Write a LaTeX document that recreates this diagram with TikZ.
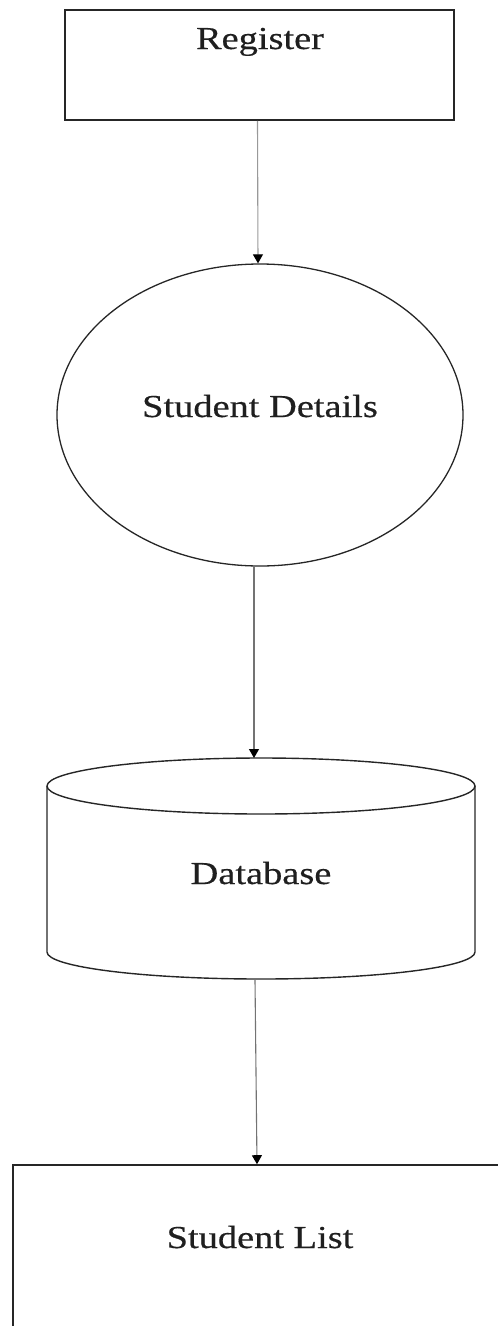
\documentclass[tikz,border=0pt]{standalone}
\usepackage{fontspec}
\setmainfont{Liberation Serif}
\newfontfamily\lblfont{Liberation Serif}[FakeBold=0.4]
\usetikzlibrary{arrows.meta,shapes.geometric}
\begin{document}
\begin{tikzpicture}[x=1pt,y=-1pt,
  boxline/.style={draw=black!85, line width=1.6pt},
  flow/.style={draw=black!55, line width=1.1pt, -{Triangle[width=10pt,length=9pt,color=black]}},
  lbl/.style={anchor=base, inner sep=0pt, text=black!88, font=\lblfont\fontsize{32}{36}\selectfont}]
\useasboundingbox (0,0) rectangle (498,1326);
\clip (0,0) rectangle (498,1326);
% Register box
\node[boxline, rectangle, minimum width=389pt, minimum height=110pt, inner sep=0pt] (reg) at (259.5,65) {};
\node[lbl] (regt) at (260,49) {\scalebox{1.2}[1]{Register}};
% Student Details ellipse
\node[boxline, line width=1.3pt, ellipse, minimum width=406pt, minimum height=302pt, inner sep=0pt] (det) at (260,415) {};
\node[lbl] (dett) at (260,417) {\scalebox{1.2}[1]{Student Details}};
% Database cylinder
\draw[boxline, line width=1.4pt] (261,786) ellipse [x radius=214pt, y radius=28pt];
\draw[boxline, line width=1.4pt] (47,786) -- (47,952)
  .. controls (47,966.9) and (142.8,979) .. (261,979)
  .. controls (379.2,979) and (475,966.9) .. (475,952) -- (475,786);
\coordinate (dbin) at (254,758);
\coordinate (dbout) at (255,980);
\node[lbl] (dbt) at (261,884) {\scalebox{1.2}[1]{Database}};
% Student List box
\node[boxline, rectangle, minimum width=507pt, minimum height=161.5pt, inner sep=0pt] (list) at (266.5,1245.75) {};
\node[lbl] (listt) at (260,1248) {\scalebox{1.2}[1]{Student List}};
% connectors
\draw[flow, draw=black!40] ([xshift=-2pt]reg.south) -- ([xshift=-2pt]det.north);
\draw[flow] ([xshift=-6pt]det.south) -- (dbin);
\draw[flow] (dbout) -- ([xshift=-9.5pt]list.north);
\end{tikzpicture}
\end{document}
